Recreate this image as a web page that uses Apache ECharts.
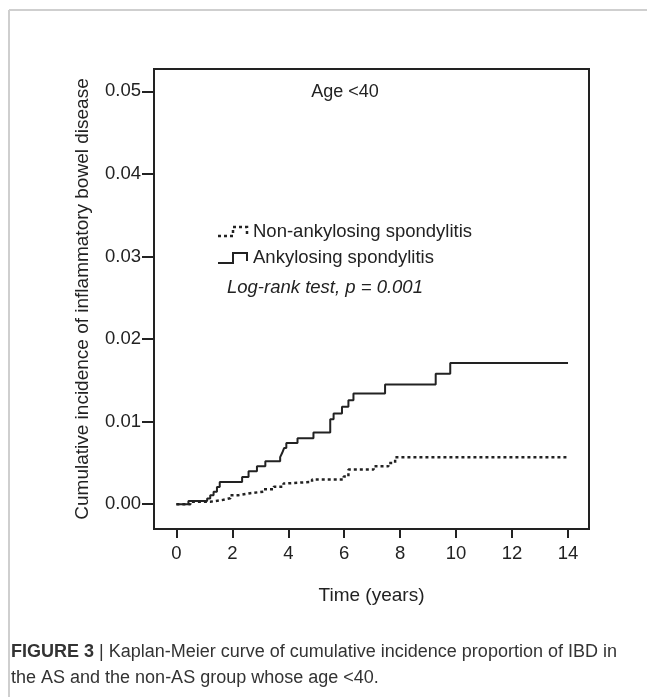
<!DOCTYPE html>
<html>
<head>
<meta charset="utf-8">
<script src="https://cdn.jsdelivr.net/npm/echarts@6/dist/echarts.min.js"></script>
<style>
	html, body { margin: 0; padding: 0; background: #fff; }
	#kmChart { width: 647px; height: 697px; }
</style>
</head>
<body>
<div id="kmChart"></div>
<script>
// AS group, step curve (value holds from time onward)
var asTimes = [0, 0.43, 1.1, 1.21, 1.33, 1.45, 1.55, 2.35, 2.58, 2.88, 3.18, 3.71, 3.78, 3.85, 3.93, 4.33, 4.9, 5.5, 5.62, 5.92, 6.15, 6.33, 7.46, 9.27, 9.79, 14];
var asValues = [0, 0.0004, 0.0007, 0.0011, 0.0015, 0.0021, 0.0027, 0.0033, 0.004, 0.0046, 0.0052, 0.0057, 0.0062, 0.0068, 0.0074, 0.008, 0.0087, 0.0103, 0.011, 0.0118, 0.0126, 0.0134, 0.0145, 0.0158, 0.0171, 0.0171];

// non-AS group
var nonAsTimes = [0, 0.5, 1.21, 1.63, 1.93, 2.23, 2.64, 3.12, 3.48, 3.83, 3.9, 4.85, 5.98, 6.15, 7.05, 7.58, 7.82, 14];
var nonAsValues = [0, 0.0003, 0.0005, 0.00073, 0.0011, 0.00133, 0.00153, 0.0018, 0.00213, 0.0025, 0.0027, 0.003, 0.00335, 0.0042, 0.0046, 0.005, 0.0057, 0.0057];

var xTicks = [0, 2, 4, 6, 8, 10, 12, 14];
var yTicks = [0, 0.01, 0.02, 0.03, 0.04, 0.05];

var km = {
	font : '"Liberation Sans", Arial, sans-serif',
	ink : '#222',

	pairs : function (xs, ys){
		var out = [];
		for (var i = 0; i < xs.length; i++) {
			out.push([xs[i], ys[i]]);
		}
		return out;
	},

	options : function (){
		var font = km.font, ink = km.ink;
		return {
			animation : false,
			backgroundColor : '#fff',
			textStyle : { fontFamily : font },
			grid : {
				left : 154, top : 69, right : 58, bottom : 168,
				show : true,
				borderColor : ink,
				borderWidth : 2,
				backgroundColor : 'transparent'
			},
			xAxis : {
				type : 'value',
				min : -0.8,
				max : 14.75,
				name : 'Time (years)',
				nameLocation : 'middle',
				nameGap : 57,
				nameTextStyle : { fontSize : 19, color : ink, fontFamily : font },
				axisLine : { onZero : false, lineStyle : { color : ink, width : 2 } },
				axisTick : { show : true, length : 9, customValues : xTicks, lineStyle : { color : ink, width : 2 } },
				axisLabel : { customValues : xTicks, fontSize : 18.5, color : ink, margin : 15, fontFamily : font },
				splitLine : { show : false }
			},
			yAxis : {
				type : 'value',
				min : -0.003,
				max : 0.0527,
				name : 'Cumulative incidence of inflammatory bowel disease',
				nameLocation : 'middle',
				nameGap : 62,
				nameTextStyle : { fontSize : 19, color : ink, fontFamily : font },
				axisLine : { onZero : false, lineStyle : { color : ink, width : 2 } },
				axisTick : { show : true, length : 12, customValues : yTicks, lineStyle : { color : ink, width : 2 } },
				axisLabel : {
					customValues : yTicks, fontSize : 18.5, color : ink, margin : 13, fontFamily : font,
					formatter : function (v){ return v.toFixed(2); }
				},
				splitLine : { show : false }
			},
			series : [
				{
					name : 'Non-ankylosing spondylitis',
					type : 'line',
					step : 'end',
					symbol : 'none',
					data : km.pairs(nonAsTimes, nonAsValues),
					lineStyle : { color : ink, width : 2.5, type : [3, 3] }
				},
				{
					name : 'Ankylosing spondylitis',
					type : 'line',
					step : 'end',
					symbol : 'none',
					data : km.pairs(asTimes, asValues),
					lineStyle : { color : ink, width : 2 }
				}
			],
			graphic : km.graphics()
		};
	},

	graphics : function (){
		var font = km.font, ink = km.ink;
		return [
			// outer frame of the figure (top and left edges)
			{ type : 'line', shape : { x1 : 9, y1 : 10, x2 : 647, y2 : 10 }, style : { stroke : '#cfcfcf', lineWidth : 2 } },
			{ type : 'line', shape : { x1 : 9, y1 : 10, x2 : 9, y2 : 697 }, style : { stroke : '#cfcfcf', lineWidth : 2 } },
			{ type : 'text', x : 345, y : 92, style : { text : 'Age <40', font : '18px ' + font, fill : ink, textAlign : 'center', textVerticalAlign : 'middle' } },
			// legend
			{ type : 'polyline', shape : { points : [[218, 236], [233, 236], [233, 227], [247, 227], [247, 236]] }, style : { stroke : ink, lineWidth : 2.5, lineDash : [3, 3], fill : null } },
			{ type : 'text', x : 253, y : 232, style : { text : 'Non-ankylosing spondylitis', font : '18.5px ' + font, fill : ink, textVerticalAlign : 'middle' } },
			{ type : 'polyline', shape : { points : [[218, 263], [233, 263], [233, 253], [247, 253], [247, 261]] }, style : { stroke : ink, lineWidth : 2, fill : null } },
			{ type : 'text', x : 253, y : 258, style : { text : 'Ankylosing spondylitis', font : '18.5px ' + font, fill : ink, textVerticalAlign : 'middle' } },
			{ type : 'text', x : 227, y : 288, style : { text : 'Log-rank test, p = 0.001', font : 'italic 18.5px ' + font, fill : ink, textVerticalAlign : 'middle' } },
			// caption
			{
				type : 'text', x : 11, y : 652,
				style : {
					text : '{b|FIGURE 3} | Kaplan-Meier curve of cumulative incidence proportion of IBD in',
					rich : { b : { fontWeight : 'bold', fontSize : 18, fontFamily : font, fill : '#333' } },
					font : '18px ' + font, fill : '#333', textVerticalAlign : 'middle'
				}
			},
			{ type : 'text', x : 11, y : 678, style : { text : 'the AS and the non-AS group whose age <40.', font : '18px ' + font, fill : '#333', textVerticalAlign : 'middle' } }
		];
	},

	init : function (){
		var myChart = echarts.init(document.getElementById('kmChart'), null, { renderer : 'canvas' });
		myChart.setOption(km.options());
	}
};

km.init();
</script>
</body>
</html>
